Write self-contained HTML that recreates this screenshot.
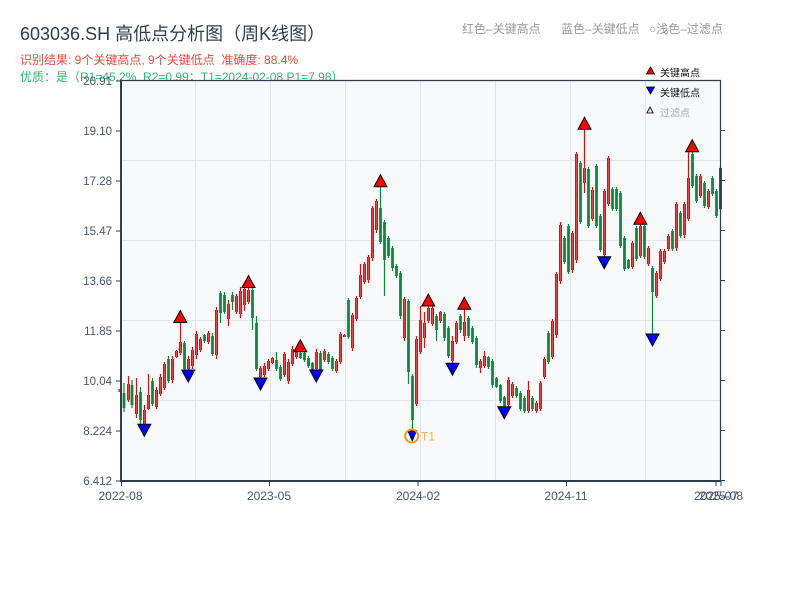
<!DOCTYPE html>
<html>
<head>
<meta charset="utf-8">
<style>
html,body{margin:0;padding:0;background:#fff;}
svg{display:block;}
text{font-family:"Liberation Sans","Noto Sans CJK SC",sans-serif;}
</style>
</head>
<body>
<svg width="800" height="600" viewBox="0 0 800 600" xmlns="http://www.w3.org/2000/svg">
<rect x="0" y="0" width="800" height="600" fill="#ffffff"/>

<!-- header texts -->
<text x="20" y="40" font-size="18" fill="#2c3e50">603036.SH 高低点分析图（周K线图）</text>
<text x="20" y="64" font-size="12" fill="#e74c3c">识别结果: 9个关键高点, 9个关键低点&#160;&#160;准确度: 88.4%</text>
<text x="20" y="81" font-size="12" fill="#2eb86b">优质：是（R1=45.2%, R2=0.99；T1=2024-02-08 P1=7.98）</text>

<text x="462" y="33" font-size="12" fill="#999999">红色–关键高点</text>
<text x="561" y="33" font-size="12" fill="#999999">蓝色–关键低点</text>
<text x="649" y="33" font-size="12" fill="#999999">○浅色–过滤点</text>

<!-- plot background -->
<rect x="121" y="80" width="600" height="401" fill="#f6f8fa"/>

<!-- grid -->
<g stroke="#e1e4e8" stroke-width="1">
<path d="M195.5 80V481M270.5 80V481M345.5 80V481M420.5 80V481M495.5 80V481M570.5 80V481M645.5 80V481"/>
<path d="M121 160.5H721M121 240.5H721M121 320.5H721M121 400.5H721"/>
</g>

<defs>
<path id="rb" d="M120 389V392M128.5 384V400M136.5 395V414M144.5 410V424M148.5 395V409M156.5 390V407M160.5 377V394M164.5 364V388M172.5 359V380M176.5 351V357M180.5 342V353M188.5 359V369M192.5 350V366M196.5 334V355M200.5 339V350M208.5 333V342M216.5 310V355M228.5 304V319M236.5 296V312M240.5 291V314M244.5 289V305M248.5 290V302M260.5 368V377M264.5 366V375M268.5 361V369M272.5 358V363M284.5 354V375M288.5 362V381M292.5 349V364M296.5 351V357M316.5 352V369M324.5 351V360M336.5 361V371M340.5 334V362M344.5 335V337M352.5 315V348M356.5 298V319M360.5 275V297M364.5 264V282M368.5 257V280M372.5 208V258M376.5 201V230M404.5 299V338M416.5 339V404M420.5 320V352M424.5 323V338M428.5 308V321M432.5 308V324M440.5 312V321M452.5 341V361M456.5 323V342M464.5 322V336M480.5 361V368M484.5 356V366M508.5 380V405M512.5 384V396M528.5 390V411M536.5 403V411M540.5 383V409M544.5 359V377M552.5 321V357M556.5 274V335M560.5 225V281M572.5 233V270M576.5 154V260M584.5 168V183M592.5 190V219M604.5 191V255M608.5 158V204M632.5 243V267M640.5 226V256M648.5 248V264M656.5 273V296M660.5 251V279M664.5 251V262M668.5 236V249M676.5 204V248M684.5 204V235M688.5 178V219M700.5 176V196M708.5 191V207M720.5 168V209"/>
</defs>

<!-- red wicks -->
<path fill="none" stroke="#d81010" stroke-width="1.2" d="M120 389V392M128.5 376V402M136.5 378V418M144.5 405V426M148.5 374V410M156.5 387V409M160.5 374V396M164.5 362V390M172.5 356V383M176.5 350V358M180.5 322V355M188.5 356V370M192.5 347V369M196.5 331V359M200.5 337V352M208.5 331V344M216.5 307V359M228.5 300V326M236.5 294V314M240.5 287V318M244.5 287V311M248.5 288V304M260.5 366V378M264.5 363V377M268.5 359V371M272.5 357V364M284.5 352V377M288.5 359V384M292.5 346V366M296.5 350V359M316.5 349V371M324.5 349V362M336.5 359V373M340.5 332V364M344.5 334V337M352.5 313V351M356.5 296V321M360.5 264V299M364.5 262V284M368.5 255V283M372.5 206V261M376.5 199V233M404.5 297V341M416.5 336V406M420.5 306V354M424.5 312V348M428.5 305V323M432.5 306V326M440.5 311V323M452.5 336V363M456.5 321V344M464.5 309V341M480.5 359V373M484.5 351V368M508.5 377V407M512.5 382V398M528.5 381V413M536.5 401V413M540.5 381V411M544.5 357V379M552.5 319V359M556.5 272V338M560.5 222V284M572.5 231V273M576.5 152V263M584.5 129V193M592.5 187V221M604.5 189V257M608.5 156V206M632.5 241V269M640.5 224V258M648.5 246V266M656.5 271V298M660.5 249V281M664.5 249V264M668.5 234V251M676.5 202V251M684.5 202V238M688.5 152V221M700.5 174V198M708.5 189V209M720.5 166V211"/>
<!-- red bodies -->
<use href="#rb" fill="none" stroke="#d40f0f" stroke-width="3"/>
<use href="#rb" fill="none" stroke="#f24040" stroke-width="1.1"/>

<!-- green wicks -->
<path fill="none" stroke="#0b8a3b" stroke-width="1.2" d="M124 383V412M132 380V408M140.5 387V424M152.5 378V406M168.5 356V383M184.5 341V371M204.5 334V343M212.5 333V356M220.5 291V323M224.5 292V314M232.5 292V310M252.5 288V330M256.5 316V371M276.5 352V371M280.5 365V381M300.5 352V359M304.5 351V362M308.5 356V368M312.5 362V371M320.5 351V374M328.5 352V364M332.5 356V371M348.5 298V339M380.5 187V244M384.5 220V296M388.5 236V258M392.5 246V271M396.5 264V278M400.5 271V319M408.5 299V384M412.5 374V430M436.5 314V341M444.5 312V341M448.5 326V358M460.5 314V333M468.5 316V338M472.5 326V344M476.5 336V368M488.5 356V369M492.5 359V388M496.5 377V388M500.5 384V403M504.5 396V408M516.5 386V398M520.5 391V411M524.5 396V413M532.5 396V411M548.5 331V364M564.5 236V264M568.5 224V274M580.5 161V224M588.5 167V228M596.5 164V228M600.5 214V252M612.5 187V211M616.5 187V211M620.5 191V248M624.5 236V271M628.5 259V269M636.5 226V261M644.5 224V259M652.5 266V336M672.5 229V251M680.5 211V238M692.5 152V188M696.5 174V203M704.5 181V208M712.5 176V196M716.5 189V218"/>
<!-- green bodies -->
<path fill="none" stroke="#0b8a3b" stroke-width="2.8" d="M124 393V408M132 385V405M140.5 392V420M152.5 381V404M168.5 359V381M184.5 343V369M204.5 335V341M212.5 336V354M220.5 293V313M224.5 295V312M232.5 295V302M252.5 290V318M256.5 323V369M276.5 360V369M280.5 367V379M300.5 353V358M304.5 353V360M308.5 358V366M312.5 363V370M320.5 353V372M328.5 354V362M332.5 358V369M348.5 300V337M380.5 208V242M384.5 222V260M388.5 238V256M392.5 248V268M396.5 266V276M400.5 273V316M408.5 301V372M412.5 376V420M436.5 316V330M444.5 314V338M448.5 328V356M460.5 316V330M468.5 318V336M472.5 328V342M476.5 338V365M488.5 357V367M492.5 361V385M496.5 378V387M500.5 385V401M504.5 397V407M516.5 388V396M520.5 393V409M524.5 398V411M532.5 398V409M548.5 333V362M564.5 238V262M568.5 226V272M580.5 163V222M588.5 169V226M596.5 166V226M600.5 216V250M612.5 189V209M616.5 189V209M620.5 193V246M624.5 238V269M628.5 260V268M636.5 228V259M644.5 226V257M652.5 268V292M672.5 231V249M680.5 213V236M692.5 154V186M696.5 176V201M704.5 183V206M712.5 178V194M716.5 191V216"/>

<!-- high markers -->
<g fill="#ff0000" stroke="#000" stroke-width="1" stroke-linejoin="miter">
<polygon points="180.3,310.5 173.8,322.5 186.8,322.5"/>
<polygon points="248.5,275.5 242,287.5 255,287.5"/>
<polygon points="300.3,339.7 293.8,351.7 306.8,351.7"/>
<polygon points="380.5,174.7 374,186.7 387,186.7"/>
<polygon points="428.3,294 421.8,306 434.8,306"/>
<polygon points="464.3,297.3 457.8,309.3 470.8,309.3"/>
<polygon points="584.5,117.3 578,129.3 591,129.3"/>
<polygon points="640.3,212.3 633.8,224.3 646.8,224.3"/>
<polygon points="692.2,139.7 685.7,151.7 698.7,151.7"/>
</g>
<!-- low markers -->
<g fill="#0000ff" stroke="#000" stroke-width="1">
<polygon points="137.8,424.3 150.8,424.3 144.3,436.3"/>
<polygon points="181.8,370 194.8,370 188.3,382"/>
<polygon points="254,378 267,378 260.5,390"/>
<polygon points="309.8,370 322.8,370 316.3,382"/>
<polygon points="446,363.3 459,363.3 452.5,375.3"/>
<polygon points="497.8,406.7 510.8,406.7 504.3,418.7"/>
<polygon points="597.7,256.7 610.7,256.7 604.2,268.7"/>
<polygon points="646,334 659,334 652.5,346"/>
<polygon points="407.7,430.5 416.7,430.5 412.2,441" stroke-width="0.8"/>
</g>
<circle cx="411.7" cy="436" r="6.5" fill="none" stroke="#f39c12" stroke-width="2"/>
<text x="421" y="440.5" font-size="12" fill="#f5b041">T1</text>

<!-- spines -->
<g stroke="#2c3e50" fill="none">
<path d="M121 80.5H721" stroke-width="1.2"/>
<path d="M720.5 80V481" stroke-width="1.2"/>
<path d="M121 79.5V482" stroke-width="2"/>
<path d="M120 481H721" stroke-width="2"/>
<!-- left ticks -->
<path stroke-width="1" d="M116 81H121M116 131H121M116 181H121M116 231H121M116 281H121M116 331H121M116 381H121M116 431H121M116 481H121"/>
<!-- right ticks -->
<path stroke-width="1" d="M721 130.5H725M721 180.5H725M721 230.5H725M721 280.5H725M721 330.5H725M721 380.5H725M721 430.5H725M721 480.5H725"/>
<!-- bottom ticks -->
<path stroke-width="1" d="M121.5 481V486M269.5 481V486M418 481V486M566.5 481V486M716 481V486M721 481V486"/>
</g>

<!-- y labels -->
<g font-size="11.5" fill="#4a5568" text-anchor="end">
<text x="112" y="85">20.91</text>
<text x="112" y="135">19.10</text>
<text x="112" y="185">17.28</text>
<text x="112" y="235">15.47</text>
<text x="112" y="285">13.66</text>
<text x="112" y="335">11.85</text>
<text x="112" y="385">10.04</text>
<text x="112" y="435">8.224</text>
<text x="112" y="485">6.412</text>
</g>

<!-- x labels -->
<g font-size="12" fill="#4a5568" text-anchor="middle">
<text x="120.5" y="500">2022-08</text>
<text x="269" y="500">2023-05</text>
<text x="418" y="500">2024-02</text>
<text x="566" y="500">2024-11</text>
<text x="716" y="500">2025-07</text>
<text x="721" y="500">2025-08</text>
</g>

<!-- in-plot legend -->
<polygon points="650.5,67 646.5,74 654.5,74" fill="#ff0000" stroke="#000" stroke-width="0.8"/>
<text x="660" y="76.5" font-size="10" fill="#111">关键高点</text>
<polygon points="646.5,87 654.5,87 650.5,94" fill="#0000ff" stroke="#000" stroke-width="0.8"/>
<text x="660" y="96.5" font-size="10" fill="#111">关键低点</text>
<polygon points="650,107 646.8,113 653.2,113" fill="#ffd6d6" stroke="#000" stroke-width="0.8"/>
<text x="660" y="116.5" font-size="10" fill="#aaaaaa">过滤点</text>
</svg>
</body>
</html>
